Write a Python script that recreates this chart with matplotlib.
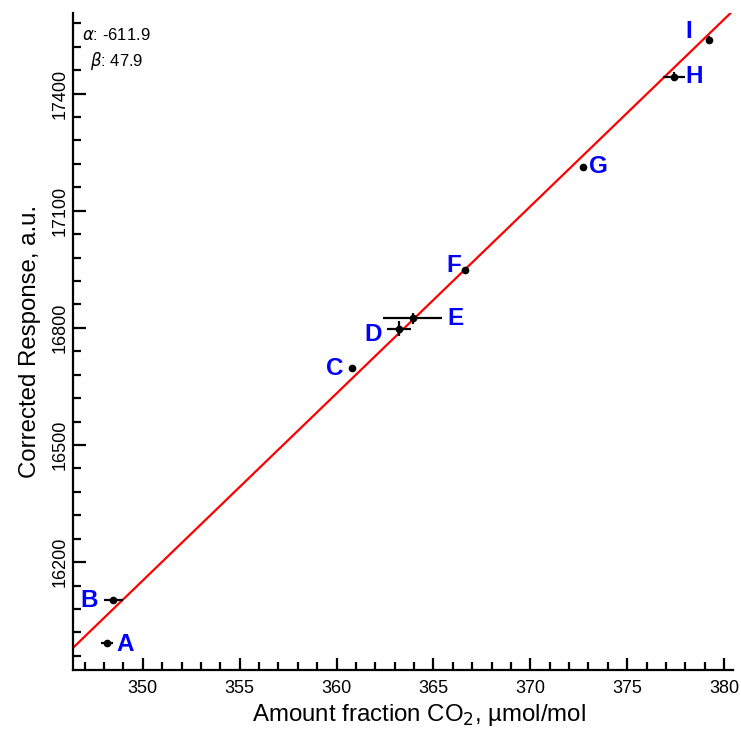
import matplotlib
matplotlib.use("Agg")
import matplotlib.pyplot as plt
import numpy as np
from matplotlib.ticker import MultipleLocator

plt.rcParams["font.family"] = ["Liberation Sans", "DejaVu Sans"]

# Calibration points
labels = ["A", "B", "C", "D", "E", "F", "G", "H", "I"]
x_vals = [348.14, 348.48, 360.81, 363.22, 363.92, 366.64, 372.74, 377.42, 379.21]
y_vals = [15992, 16103, 16696, 16798, 16824, 16949, 17212, 17443, 17537]
x_err = [0.30, 0.49, 0.10, 0.62, 1.51, 0.10, 0.10, 0.56, 0.10]
y_err = [6, 6, 6, 19, 15, 6, 6, 12, 10]

# Fit coefficients
alpha = -611.9
beta = 47.9

# label placement: offset in points and alignment
label_pos = {
    "A": (7, -1, "left"), "B": (-11, 0, "right"), "C": (-6, 0, "right"),
    "D": (-12, -4, "right"), "E": (25, 0, "left"), "F": (-3, 3, "right"),
    "G": (4, 0, "left"), "H": (8, 0, "left"), "I": (-12, 6, "right"),
}

fig = plt.figure(figsize=(7.41, 7.36), dpi=100)
ax = fig.add_axes([0.0985, 0.0897, 0.8905, 0.8925])

xlim = (346.4, 380.45)
ylim = (15924, 17606)
ax.set_xlim(*xlim)
ax.set_ylim(*ylim)

# fitted line
xl = np.array(xlim)
ax.plot(xl, alpha + beta * xl, color="red", lw=1.6, zorder=2)

# data with error bars
ax.errorbar(x_vals, y_vals, xerr=x_err, yerr=y_err, fmt="o", color="black",
            ms=4.5, elinewidth=1.6, capsize=0, zorder=3)

for lab, x, y in zip(labels, x_vals, y_vals):
    dx, dy, ha = label_pos[lab]
    ax.annotate(lab, (x, y), xytext=(dx, dy), textcoords="offset points",
                ha=ha, va="center", color="blue", fontsize=17.5,
                fontweight="bold")

ax.text(0.065, 0.967, r"$\alpha$: -611.9", transform=ax.transAxes,
        fontsize=12, ha="center", va="center")
ax.text(0.067, 0.927, r"$\beta$: 47.9", transform=ax.transAxes,
        fontsize=12, ha="center", va="center")

ax.xaxis.set_major_locator(MultipleLocator(5))
ax.xaxis.set_minor_locator(MultipleLocator(1))
ax.yaxis.set_major_locator(MultipleLocator(300))
ax.yaxis.set_minor_locator(MultipleLocator(60))

for side in ["top", "right"]:
    ax.spines[side].set_visible(False)
for side in ["left", "bottom"]:
    ax.spines[side].set_linewidth(1.6)

ax.tick_params(which="major", direction="in", length=9, width=1.6,
               labelsize=13)
ax.tick_params(which="minor", direction="in", length=5.5, width=1.6)
ax.tick_params(axis="y", which="major", pad=3)
ax.tick_params(axis="x", which="major", pad=7)
for t in ax.get_yticklabels():
    t.set_rotation(90)
    t.set_va("center")

ax.set_xlabel(r"Amount fraction CO$_2$, µmol/mol", fontsize=17.3, labelpad=4,
              x=0.525)
ax.set_ylabel("Corrected Response, a.u.", fontsize=17.3, labelpad=8)

fig.savefig("out.png", dpi=100)
